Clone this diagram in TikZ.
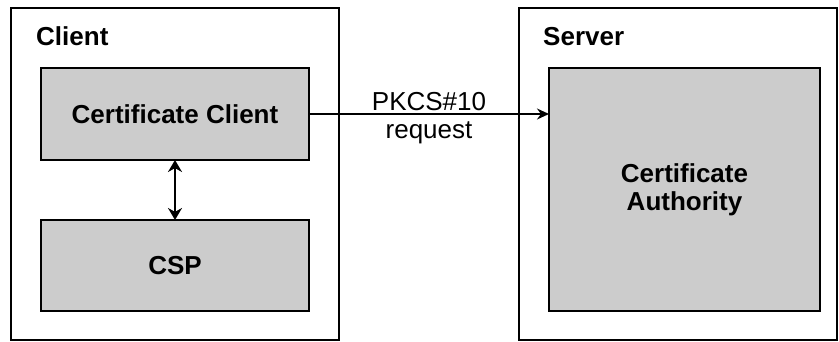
\documentclass[tikz,border=0pt]{standalone}
\usepackage{fontspec}
\setmainfont{Liberation Sans}
\usepackage{xcolor}
\usepackage{tikz}
\usetikzlibrary{arrows.meta,positioning,calc}
\definecolor{csInk}{HTML}{000000}
\definecolor{csGray}{HTML}{CCCCCC}
\tikzset{
  % Outer host frame (white)
  hostbox/.style={rectangle,draw=csInk,line width=1.4pt,fill=white,
    inner sep=0pt,outer sep=0pt},
  % Grey component box
  compbox/.style={rectangle,draw=csInk,line width=2pt,fill=csGray,
    inner sep=0pt,outer sep=0pt,align=center,
    font=\fontsize{26}{28}\selectfont\bfseries},
  % Host title
  hosttitle/.style={anchor=base west,inner sep=0pt,
    font=\fontsize{26}{28}\selectfont\bfseries},
  % Arrows
  arr/.style={-{Stealth[length=12pt,width=11pt]},line width=1.4pt,color=csInk},
  arrb/.style={{Stealth[length=12pt,width=14pt]}-{Stealth[length=12pt,width=14pt]},
    line width=1.8pt,color=csInk},
  lbl/.style={font=\fontsize{26}{28}\selectfont,inner sep=3pt},
}
\begin{document}
\begin{tikzpicture}[x=1pt,y=-1pt]
  \useasboundingbox (0,0) rectangle (839,342);

  % hosts
  \node[hostbox,minimum width=328pt,minimum height=332pt] (client) at (175,174) {};
  \node[hostbox,minimum width=318pt,minimum height=332pt] (server) at (678,174) {};
  \node[hosttitle] (clientlbl) at (36,46) {Client};
  \node[hosttitle] (serverlbl) at (543,46) {Server};

  % components
  \node[compbox,minimum width=268pt,minimum height=92pt] (cc) at (175,114)
    {Certificate Client};
  \node[compbox,minimum width=268pt,minimum height=91pt] (csp) at (175,265.5)
    {CSP};
  \node[compbox,minimum width=271pt,minimum height=243pt] (ca) at (684.5,189.5)
    {Certificate\\Authority};

  \draw[arrb] (cc) -- (csp);
  \draw[arr] (cc.east) -- node[lbl,above] {PKCS\#10}
    node[lbl,below=4pt] {request} (cc.east -| ca.west);
\end{tikzpicture}
\end{document}
